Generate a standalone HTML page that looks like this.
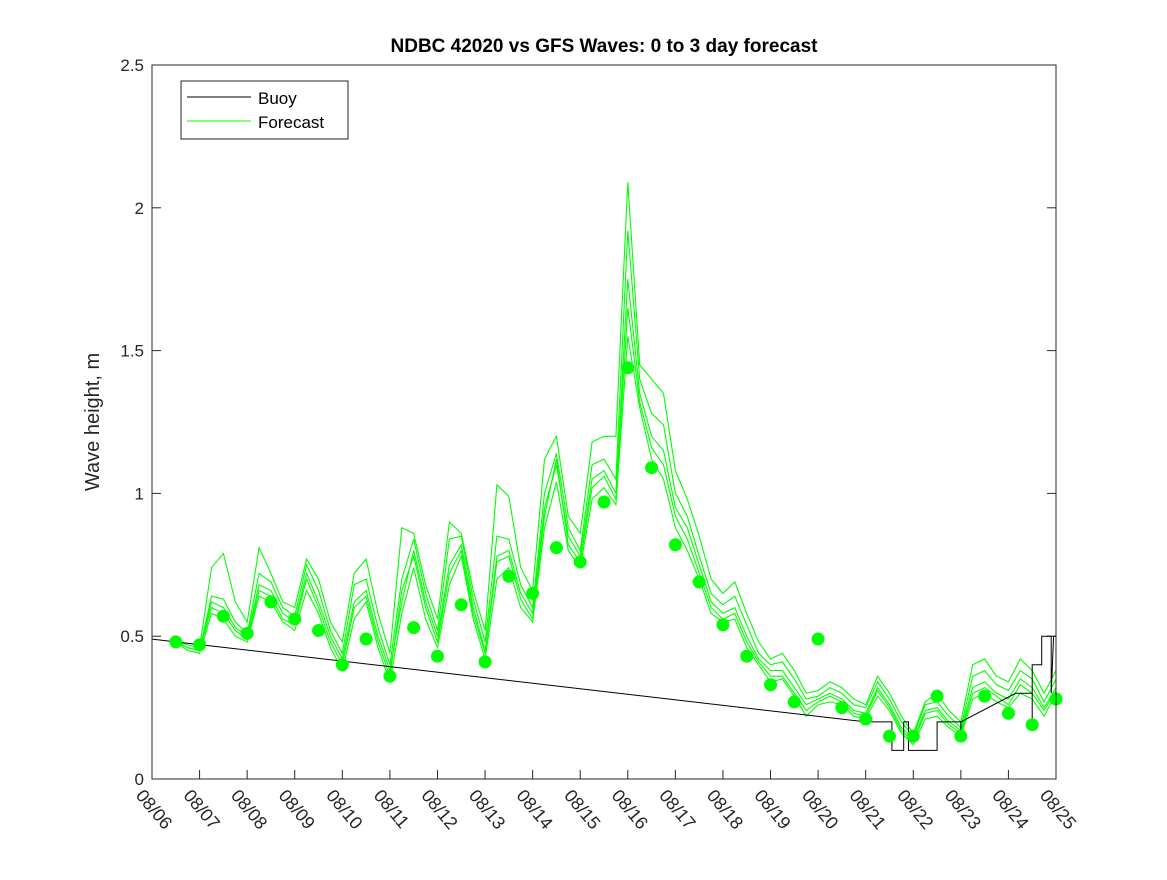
<!DOCTYPE html>
<html><head><meta charset="utf-8"><style>
body{margin:0;background:#fff;}
svg text{font-family:"Liberation Sans",sans-serif;fill:#262626;}
</style></head><body>
<svg id="chart" width="1167" height="875" xmlns="http://www.w3.org/2000/svg">
<rect width="1167" height="875" fill="#fff"/>
<text x="604" y="52" text-anchor="middle" font-size="19" font-weight="bold" style="fill:#000">NDBC 42020 vs GFS Waves: 0 to 3 day forecast</text>
<text transform="translate(99,422) rotate(-90)" text-anchor="middle" font-size="20">Wave height, m</text>
<g id="plot"></g>
<rect x="152" y="65" width="904" height="714" fill="none" stroke="#262626" stroke-width="1"/>
<g>
<rect x="181" y="81" width="167" height="58" fill="#fff" stroke="#262626"/>
<line x1="187" y1="97" x2="251" y2="97" stroke="#000"/>
<text x="258" y="104" font-size="17" style="fill:#000">Buoy</text>
<line x1="187" y1="121" x2="251" y2="121" stroke="#00ff00"/>
<text x="258" y="128" font-size="17" style="fill:#000">Forecast</text>
</g>
</svg>
<script>
const xTickLabels=["08/06","08/07","08/08","08/09","08/10","08/11","08/12","08/13","08/14","08/15","08/16","08/17","08/18","08/19","08/20","08/21","08/22","08/23","08/24","08/25"];
const yTicks=[0,0.5,1,1.5,2,2.5];
const dotDays=[6.5,7,7.5,8,8.5,9,9.5,10,10.5,11,11.5,12,12.5,13,13.5,14,14.5,15,15.5,16,16.5,17,17.5,18,18.5,19,19.5,20,20.5,21,21.5,22,22.5,23,23.5,24,24.5,25];
const dotValues=[0.48,0.47,0.57,0.51,0.62,0.56,0.52,0.40,0.49,0.36,0.53,0.43,0.61,0.41,0.71,0.65,0.81,0.76,0.97,1.44,1.09,0.82,0.69,0.54,0.43,0.33,0.27,0.49,0.25,0.21,0.15,0.15,0.29,0.15,0.29,0.23,0.19,0.28];
const fcStart=6.5, fcStep=0.25;
const fcA=[0.48,0.46,0.45,0.62,0.60,0.53,0.50,0.68,0.66,0.58,0.55,0.72,0.62,0.50,0.42,0.62,0.66,0.50,0.38,0.62,0.80,0.62,0.50,0.75,0.82,0.60,0.45,0.78,0.80,0.65,0.58,0.95,1.10,0.85,0.78,1.05,1.08,1.00,1.75,1.35,1.20,1.15,0.95,0.88,0.75,0.62,0.58,0.60,0.50,0.42,0.38,0.38,0.32,0.26,0.28,0.30,0.28,0.24,0.23,0.32,0.26,0.18,0.14,0.24,0.25,0.20,0.17,0.32,0.34,0.30,0.28,0.35,0.32,0.25,0.32];
const fcB=[0.48,0.47,0.46,0.74,0.79,0.62,0.55,0.81,0.72,0.62,0.60,0.77,0.70,0.55,0.48,0.72,0.77,0.58,0.44,0.88,0.86,0.68,0.56,0.90,0.86,0.66,0.52,1.03,0.99,0.74,0.66,1.12,1.20,0.92,0.86,1.18,1.20,1.20,2.09,1.45,1.40,1.35,1.08,0.98,0.85,0.70,0.65,0.69,0.58,0.48,0.42,0.44,0.38,0.30,0.31,0.34,0.32,0.28,0.26,0.36,0.30,0.22,0.16,0.27,0.30,0.24,0.20,0.40,0.42,0.36,0.34,0.42,0.38,0.30,0.38];
const fcC=[0.48,0.45,0.44,0.58,0.56,0.50,0.48,0.64,0.62,0.55,0.52,0.66,0.58,0.46,0.38,0.56,0.62,0.46,0.34,0.58,0.74,0.56,0.46,0.68,0.78,0.56,0.42,0.70,0.74,0.60,0.55,0.88,1.04,0.80,0.74,0.98,1.02,0.96,1.55,1.30,1.12,1.05,0.88,0.80,0.70,0.58,0.55,0.56,0.46,0.40,0.34,0.35,0.29,0.22,0.26,0.27,0.26,0.22,0.21,0.29,0.24,0.16,0.12,0.21,0.22,0.18,0.15,0.28,0.30,0.27,0.25,0.30,0.28,0.22,0.30];
const fcD=[0.48,0.46,0.45,0.64,0.63,0.55,0.51,0.72,0.69,0.60,0.57,0.75,0.66,0.52,0.44,0.68,0.70,0.53,0.40,0.70,0.84,0.65,0.52,0.84,0.85,0.63,0.48,0.85,0.84,0.68,0.60,1.00,1.14,0.88,0.80,1.10,1.12,1.05,1.92,1.40,1.28,1.24,1.00,0.92,0.78,0.65,0.61,0.64,0.54,0.44,0.40,0.41,0.35,0.28,0.29,0.32,0.30,0.26,0.25,0.34,0.28,0.20,0.15,0.26,0.27,0.22,0.18,0.36,0.38,0.33,0.31,0.38,0.35,0.27,0.35];
const fcE=[0.48,0.46,0.45,0.60,0.58,0.52,0.49,0.66,0.64,0.56,0.54,0.70,0.60,0.48,0.40,0.60,0.64,0.48,0.36,0.66,0.78,0.60,0.48,0.72,0.80,0.58,0.44,0.76,0.78,0.63,0.56,0.92,1.12,0.82,0.76,1.02,1.06,0.98,1.65,1.32,1.16,1.10,0.92,0.84,0.72,0.60,0.56,0.58,0.48,0.41,0.36,0.36,0.30,0.24,0.27,0.29,0.27,0.23,0.22,0.31,0.25,0.17,0.13,0.23,0.24,0.19,0.16,0.30,0.32,0.29,0.26,0.33,0.30,0.24,0.31];
const buoyDays=[6,21,21.55,21.55,21.8,21.8,21.9,21.9,22.5,22.5,23,23,23,24.15,24.5,24.5,24.5,24.7,24.7,24.9,24.9,24.95,25];
const buoyValues=[0.49,0.2,0.2,0.1,0.1,0.2,0.2,0.1,0.1,0.2,0.2,0.15,0.2,0.3,0.3,0.2,0.4,0.4,0.5,0.5,0.3,0.5,0.5];

const X0=152,X1=1056,Y0=779,Y1=65;
const xS=d=>X0+(d-6)*(X1-X0)/19;
const yS=v=>Y0-v*(Y0-Y1)/2.5;
const NS="http://www.w3.org/2000/svg";
const plot=document.getElementById('plot');
function mk(t,a){const e=document.createElementNS(NS,t);for(const k in a)e.setAttribute(k,a[k]);plot.appendChild(e);return e;}

yTicks.forEach((v,i)=>{
  const y=yS(v);
  const t=mk('line',{x1:X0,x2:X0+9,y1:y,y2:y,stroke:'#262626'});
  
  
  const t2=mk('line',{x1:X1-9,x2:X1,y1:y,y2:y,stroke:'#262626'});
  
  
  const l=mk('text',{x:X0-8,y:y+6,'text-anchor':'end','font-size':'17'});
  l.textContent=String(v);
  
  
});
xTickLabels.forEach((s,i)=>{
  const x=xS(6+i);
  const t=mk('line',{x1:x,x2:x,y1:Y0,y2:Y0-9,stroke:'#262626'});
  
  
  const l=mk('text',{transform:`translate(${x-17},${Y0+17}) rotate(50)`,'font-size':'18'});
  l.textContent=s;
  
  
});
[fcA,fcB,fcC,fcD,fcE].forEach((ser,k)=>{
  const pts=ser.map((v,i)=>xS(fcStart+i*fcStep).toFixed(1)+','+yS(v).toFixed(1)).join(' ');
  const p=mk('polyline',{points:pts,fill:'none',stroke:'#00ff00','stroke-width':'1.1'});
  
  
});
{
  const pts=buoyDays.map((d,i)=>xS(d).toFixed(1)+','+yS(buoyValues[i]).toFixed(1)).join(' ');
  const p=mk('polyline',{points:pts,fill:'none',stroke:'#000','stroke-width':'1'});
  
  
}
dotDays.forEach((d,i)=>{
  const c=mk('circle',{cx:xS(d),cy:yS(dotValues[i]),r:6.5,fill:'#00ff00'});
  
  
});
</script>
</body></html>
